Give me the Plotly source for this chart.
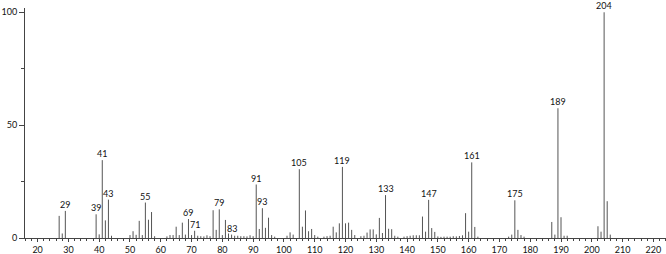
import plotly.graph_objects as go

mz = [27, 28, 29, 39, 40, 41, 42, 43, 44, 50, 51, 52, 53, 54, 55, 56, 57, 58,
      62, 63, 64, 65, 66, 67, 68, 69, 70, 71, 72, 73, 74, 75, 76, 77, 78, 79,
      80, 81, 82, 83, 84, 85, 86, 87, 88, 89, 90, 91, 92, 93, 94, 95, 96, 97,
      101, 102, 103, 105, 106, 107, 108, 109, 110, 111, 113, 114, 115, 116,
      117, 118, 119, 120, 121, 122, 123, 125, 126, 127, 128, 129, 130, 131,
      132, 133, 134, 135, 136, 137, 139, 140, 141, 142, 143, 144, 145, 146,
      147, 148, 149, 150, 151, 152, 153, 154, 155, 156, 157, 158, 159, 160,
      161, 162, 163, 173, 174, 175, 176, 177, 178, 187, 188, 189, 190, 191,
      192, 202, 203, 204, 205, 206]
intensity = [9.8, 2, 12, 10.5, 1.6, 34.5, 7.8, 17, 1, 1.3, 3, 1.4, 7.6, 1.3,
             15.7, 8.1, 11.5, 0.8, 0.7, 1.3, 1.3, 5, 1.3, 6.8, 1.5, 8.4, 1.3,
             3.2, 1, 0.8, 0.7, 1.2, 0.8, 12.3, 3.6, 12.7, 1.3, 8, 2, 1.5, 1,
             1, 0.8, 0.8, 0.7, 1.2, 0.8, 23.7, 4, 13.2, 4.5, 9, 1.3, 0.6, 1,
             2.5, 1.5, 30.5, 5, 12.2, 3, 4, 1.3, 0.6, 0.6, 0.8, 1, 5, 2.5, 6.5,
             31.5, 6.5, 6.8, 3.6, 1.3, 0.8, 1, 2.4, 3.8, 3.8, 1.6, 8.9, 2.2,
             19, 4.1, 3.9, 1, 0.6, 0.6, 0.8, 1, 1.2, 1.2, 1.2, 9.5, 2.8, 16.9,
             4.4, 2.7, 0.7, 0.5, 0.6, 0.6, 0.6, 0.8, 0.7, 0.9, 1.2, 11, 2.8,
             33.5, 4.9, 0.6, 0.6, 1.5, 16.7, 3.6, 1.3, 0.6, 7.1, 1.5, 57.5,
             9.2, 1, 1, 5.2, 2.8, 100, 16.3, 1.5]
labeled = [29, 39, 41, 43, 55, 69, 71, 79, 83, 91, 93, 105, 119, 133, 147,
           161, 175, 189, 204]
x_ticks = list(range(20, 221, 10))
y_ticks = [0, 50, 100]

xs, ys = [], []
for m, h in zip(mz, intensity):
    xs += [m, m, None]
    ys += [0, h, None]

fig = go.Figure()
fig.add_trace(go.Scatter(x=xs, y=ys, mode="lines",
                         line=dict(color="#555555", width=1),
                         hoverinfo="skip", showlegend=False))

lookup = dict(zip(mz, intensity))
for m in labeled:
    fig.add_annotation(x=m, y=lookup[m], text=str(m), showarrow=False,
                       yanchor="bottom", yshift=0, borderpad=0,
                       font=dict(family="Lato", size=9, color="#111"))

fig.update_layout(
    width=666, height=254,
    margin=dict(l=25, r=0, t=8, b=16),
    paper_bgcolor="white", plot_bgcolor="white",
    showlegend=False,
)
fig.update_xaxes(range=[15.9, 224.1], tickvals=x_ticks,
                 ticktext=[str(v) for v in x_ticks],
                 showgrid=False, zeroline=False, showline=True,
                 linecolor="#444", linewidth=1, ticks="outside", ticklen=3,
                 tickcolor="#444",
                 minor=dict(dtick=2, tick0=0, ticks="outside", ticklen=2,
                            tickcolor="#444"),
                 tickfont=dict(family="Lato", size=9, color="#111"))
fig.update_yaxes(range=[0, 101.9], tickvals=y_ticks,
                 showgrid=False, zeroline=False, showline=True,
                 linecolor="#444", linewidth=1, ticks="outside", ticklen=5,
                 tickcolor="#444",
                 minor=dict(tickvals=[25, 75], ticks="outside", ticklen=3,
                            tickcolor="#444"),
                 tickfont=dict(family="Lato", size=9, color="#111"))

fig.write_html("out.html")
